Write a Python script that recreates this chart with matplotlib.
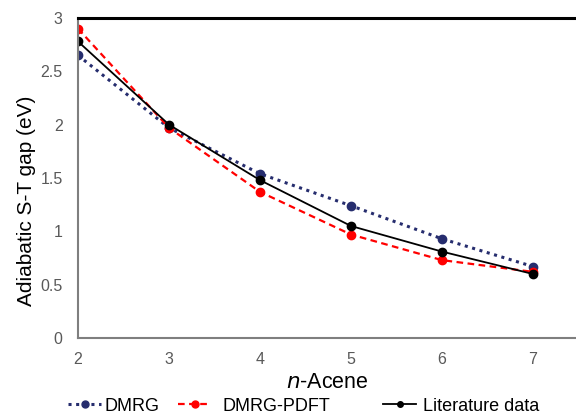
import matplotlib
matplotlib.use("Agg")
import matplotlib.pyplot as plt
from matplotlib.lines import Line2D

plt.rcParams['font.family'] = ['Liberation Sans', 'DejaVu Sans']

n_acene = [2, 3, 4, 5, 6, 7]
dmrg = [2.65, 1.97, 1.54, 1.24, 0.93, 0.67]
dmrg_pdft = [2.90, 1.97, 1.37, 0.97, 0.73, 0.62]
literature = [2.78, 2.00, 1.48, 1.05, 0.81, 0.60]
labels = ['DMRG', 'DMRG-PDFT', 'Literature data']

fig = plt.figure(figsize=(5.76, 4.15), dpi=100)
ax = fig.add_axes([78/576, 1-338/415, 1-78/576, (338-18)/415])

styles = [
    dict(linestyle=(0, (1, 1.5)), color='#262d6e', lw=2.2),
    dict(linestyle=(0, (3, 2)), color='#ff0000', lw=1.6),
    dict(linestyle='-', color='black', lw=1.3),
]
for ys, st, lab in zip([dmrg, dmrg_pdft, literature], styles, labels):
    ax.plot(n_acene, ys, marker='o', ms=6, label=lab, **st)

ax.set_xlim(2, 2 + 498/91)
ax.set_ylim(0, 3)
ax.set_xticks([2, 3, 4, 5, 6, 7])
ax.set_yticks([0, 0.5, 1, 1.5, 2, 2.5, 3])
ax.set_yticklabels(['0', '0.5', '1', '1.5', '2', '2.5', '3'])
ax.tick_params(length=0, labelsize=11.5, colors='#595959')
ax.tick_params(axis='y', pad=11)
ax.tick_params(axis='x', pad=10)

for s in ['left', 'bottom']:
    ax.spines[s].set_color('#7f7f7f')
    ax.spines[s].set_linewidth(1.5)
ax.spines['top'].set_color('black')
ax.spines['top'].set_linewidth(2.2)
ax.spines['right'].set_visible(False)

ax.set_ylabel('Adiabatic S-T gap (eV)', fontsize=15)
ax.yaxis.set_label_coords(-0.085, 0.43)
ax.set_xlabel('$\\it{n}$-Acene', fontsize=15.5, labelpad=4)

msizes = [5, 5, 4]
xpos = [68, 178, 383]
pads = [0.15, 0.6, 0.35]
for st, lab, msz, xp, pd in zip(styles, labels, msizes, xpos, pads):
    h = Line2D([], [], marker='o', ms=msz, **st)
    fig.legend([h], [lab], loc='center left',
               bbox_to_anchor=(xp/576, 1-406/415), frameon=False,
               fontsize=13, handlelength=1.85, handletextpad=pd,
               borderpad=0, borderaxespad=0)

fig.savefig('out.png', dpi=100)
